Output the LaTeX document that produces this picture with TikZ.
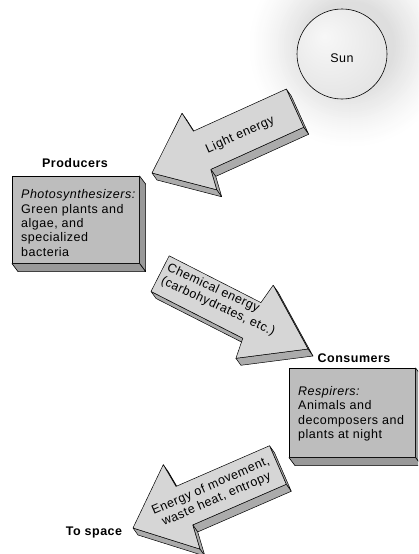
\documentclass[tikz,border=0pt]{standalone}
\usepackage{fontspec}
\setmainfont{Liberation Sans}[LetterSpace=4]
\usetikzlibrary{calc}

\definecolor{arrowfill}{HTML}{D6D6D6}
\definecolor{arrowdark}{HTML}{ABABAB}
\definecolor{boxfill}{HTML}{BDBDBD}
\definecolor{boxdark}{HTML}{999999}

% the sun's own slightly domed fill
\pgfdeclareradialshading{sunball}{\pgfpoint{-10bp}{10bp}}{%
  color(0bp)=(black!3); color(30bp)=(black!10); color(60bp)=(black!14)}

\tikzset{
  arrowfront/.style={fill=arrowfill, draw=black, line width=0.5pt, line join=round},
  arrowside/.style={fill=arrowdark, draw=black, line width=0.5pt, line join=round},
  boxfront/.style={fill=boxfill, draw=black, line width=0.6pt, inner sep=0pt},
  boxside/.style={fill=boxdark, draw=black, line width=0.6pt, line join=round},
  headtext/.style={font=\bfseries\fontsize{12.5}{14}\selectfont, inner sep=0pt},
  bodytext/.style={font=\fontsize{12.5}{14.4}\selectfont, align=left, inner sep=0pt},
  arrowtext/.style={font=\fontsize{12.5}{14.4}\selectfont, inner sep=0pt},
}

% side face of an extruded arrow between two corner coordinates
\newcommand\sideface[2]{%
  \draw[arrowside] (#1) -- (#2) -- ([xshift=5pt,yshift=-7pt]#2)
    -- ([xshift=5pt,yshift=-7pt]#1) -- cycle;}

\begin{document}
\begin{tikzpicture}[x=1pt,y=-1pt]
\useasboundingbox (0,0) rectangle (418,554);
\fill[white] (0,0) rectangle (418,554);
\clip (0,0) rectangle (418,554);

% ---- Sun with a soft halo ----
\foreach \r in {104,102,...,44} {
  \pgfmathsetmacro\k{13*((104-\r)/60)^1.4}
  \fill[black!\k] (350,46) circle[radius=\r];
}
\shade[shading=sunball, draw=black, line width=0.6pt] (342,54) circle[radius=45];
\node[arrowtext, anchor=base] (sun) at (342,62.5) {Sun};

% ---- Producers box ----
\node[boxfront, minimum width=127pt, minimum height=87pt, anchor=north west]
  (prod) at (12,176) {};
\draw[boxside] (prod.north east) -- ([xshift=6pt,yshift=-8pt]prod.north east)
  -- ([xshift=6pt,yshift=-8pt]prod.south east) -- (prod.south east) -- cycle;
\draw[boxside] (prod.south west) -- (prod.south east)
  -- ([xshift=6pt,yshift=-8pt]prod.south east) -- ([xshift=6pt,yshift=-8pt]prod.south west) -- cycle;
\node[headtext, anchor=base] (prodhead) at (75,167.5) {Producers};
\node[bodytext, anchor=north west] (prodtext) at (21,189.5)
  {\textit{Photosynthesizers:}\\Green plants and\\algae, and\\specialized\\bacteria};

% ---- Consumers box ----
\node[boxfront, minimum width=126pt, minimum height=89pt, anchor=north west]
  (cons) at (289,368) {};
\draw[boxside] (cons.north east) -- ([xshift=6pt,yshift=-8pt]cons.north east)
  -- ([xshift=6pt,yshift=-8pt]cons.south east) -- (cons.south east) -- cycle;
\draw[boxside] (cons.south west) -- (cons.south east)
  -- ([xshift=6pt,yshift=-8pt]cons.south east) -- ([xshift=6pt,yshift=-8pt]cons.south west) -- cycle;
\node[headtext, anchor=base] (conshead) at (354,362.5) {Consumers};
\node[bodytext, anchor=north west] (constext) at (298,386)
  {\textit{Respirers:}\\Animals and\\decomposers and\\plants at night};

% ---- Light energy arrow (sun to producers) ----
\begin{scope}[shift={(152,173)}, rotate=24.4]
  \coordinate (L1) at (0,0);
  \coordinate (L2) at (52,-42);
  \coordinate (L3) at (55,-21);
  \coordinate (L4) at (157,-21);
  \coordinate (L5) at (157,21);
  \coordinate (L6) at (55,21);
  \coordinate (L7) at (52,42);
  \coordinate (Lt) at (96,2);
\end{scope}
\sideface{L2}{L3}\sideface{L4}{L5}\sideface{L5}{L6}\sideface{L6}{L7}\sideface{L7}{L1}
\draw[arrowfront] (L1) -- (L2) -- (L3) -- (L4) -- (L5) -- (L6) -- (L7) -- cycle;
\node[arrowtext, rotate=24.4] (light) at (Lt) {Light energy};

% ---- Chemical energy arrow (producers to consumers) ----
\begin{scope}[shift={(308,349)}, rotate=153]
  \coordinate (C1) at (0,0);
  \coordinate (C2) at (60,41);
  \coordinate (C3) at (63,20);
  \coordinate (C4) at (166,20);
  \coordinate (C5) at (166,-20);
  \coordinate (C6) at (63,-20);
  \coordinate (C7) at (60,-41);
  \coordinate (Ct) at (162,2);
\end{scope}
\sideface{C1}{C2}\sideface{C5}{C6}\sideface{C7}{C1}
\draw[arrowfront] (C1) -- (C2) -- (C3) -- (C4) -- (C5) -- (C6) -- (C7) -- cycle;
\node[arrowtext, align=left, anchor=west, rotate=-25] (chem) at (Ct)
  {Chemical energy\\(carbohydrates, etc.)};

% ---- Energy leaving to space ----
\begin{scope}[shift={(133,528)}, rotate=23.5]
  \coordinate (E1) at (0,0);
  \coordinate (E2) at (53,-46);
  \coordinate (E3) at (56,-21);
  \coordinate (E4) at (158,-21);
  \coordinate (E5) at (158,21);
  \coordinate (E6) at (56,21);
  \coordinate (E7) at (53,46);
  \coordinate (Et) at (88,0);
\end{scope}
\sideface{E2}{E3}\sideface{E4}{E5}\sideface{E5}{E6}\sideface{E6}{E7}\sideface{E7}{E1}
\draw[arrowfront] (E1) -- (E2) -- (E3) -- (E4) -- (E5) -- (E6) -- (E7) -- cycle;
\node[arrowtext, align=center, rotate=23.5] (waste) at (Et)
  {Energy of movement,\\waste heat, entropy};
\node[headtext, anchor=base] (space) at (94,535) {To space};
\end{tikzpicture}
\end{document}
